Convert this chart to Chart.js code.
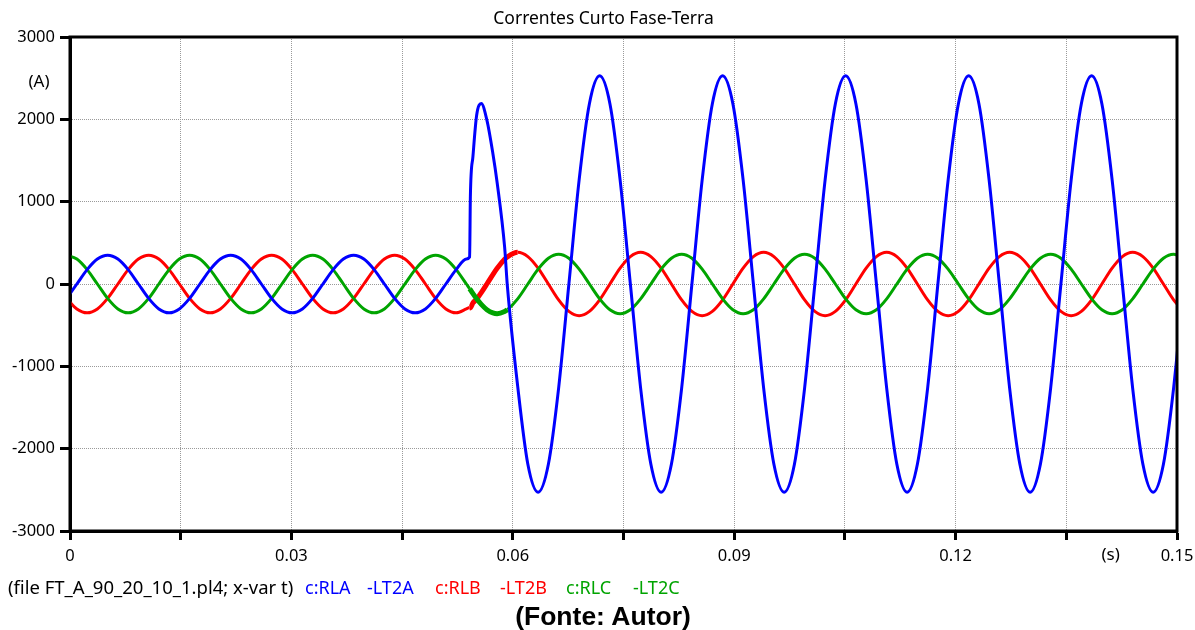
<!DOCTYPE html>
<html>
<head>
<meta charset="utf-8">
<title>Correntes Curto Fase-Terra</title>
<script src="https://cdn.jsdelivr.net/npm/chart.js@4.4.1/dist/chart.umd.min.js"></script>
<style>
  html, body { margin: 0; padding: 0; background: #fff; }
  #wrap { position: relative; width: 1195px; height: 630px; overflow: hidden; }
  #c { position: absolute; left: 0; top: 0; }
  .foot { position: absolute; top: 576px; font-family: 'Noto Sans', sans-serif; font-size: 18px; line-height: 22px; white-space: nowrap; color: #000; }
  .src { position: absolute; left: 0; width: 1206px; top: 601px; text-align: center; font-family: 'Liberation Sans', Arial, sans-serif; font-weight: bold; font-size: 26.5px; line-height: 30px; color: #000; }
</style>
</head>
<body>
<div id="wrap">
  <canvas id="c" width="1195" height="630"></canvas>
  <span class="foot" style="left:8px;font-size:18.5px">(file FT_A_90_20_10_1.pl4; x-var t)</span>
  <span class="foot" style="left:305px;color:#0000ff">c:RLA</span>
  <span class="foot" style="left:367px;color:#0000ff">-LT2A</span>
  <span class="foot" style="left:435px;color:#ff0000">c:RLB</span>
  <span class="foot" style="left:500px;color:#ff0000">-LT2B</span>
  <span class="foot" style="left:566px;color:#00a400">c:RLC</span>
  <span class="foot" style="left:633px;color:#00a400">-LT2C</span>
  <div class="src">(Fonte: Autor)</div>
</div>
<script>
// Sample instants (s) of the three phase currents
const timeS = [
  -0.00046, 0.00093, 0.00232, 0.00371, 0.00510, 0.00649, 0.00788, 0.00927, 0.01066, 0.01204,
  0.01343, 0.01482, 0.01621, 0.01760, 0.01899, 0.02038, 0.02177, 0.02316, 0.02454, 0.02593,
  0.02732, 0.02871, 0.03010, 0.03149, 0.03288, 0.03427, 0.03566, 0.03704, 0.03843, 0.03982,
  0.04121, 0.04260, 0.04399, 0.04538, 0.04677, 0.04816, 0.04954, 0.05093, 0.05232, 0.05371,
  0.05415, 0.05425, 0.05460, 0.05510, 0.05573, 0.05649, 0.05730, 0.05788, 0.05889, 0.05927, 0.06066,
  0.06204, 0.06343, 0.06482, 0.06621, 0.06760, 0.06899, 0.07038, 0.07177, 0.07316, 0.07454,
  0.07593, 0.07732, 0.07871, 0.08010, 0.08149, 0.08288, 0.08427, 0.08566, 0.08704, 0.08843,
  0.08982, 0.09121, 0.09260, 0.09399, 0.09538, 0.09677, 0.09816, 0.09954, 0.10093, 0.10232,
  0.10371, 0.10510, 0.10649, 0.10788, 0.10927, 0.11066, 0.11204, 0.11343, 0.11482, 0.11621,
  0.11760, 0.11899, 0.12038, 0.12177, 0.12316, 0.12454, 0.12593, 0.12732, 0.12871, 0.13010,
  0.13149, 0.13288, 0.13427, 0.13566, 0.13704, 0.13843, 0.13982, 0.14121, 0.14260, 0.14399,
  0.14538, 0.14677, 0.14816, 0.14954, 0.15093
];

// Phase A current (A): c:RLA -LT2A
const currentA = [
  -175, 0, 175, 303, 350, 303, 175, 0, -175, -303,
  -350, -303, -175, 0, 175, 303, 350, 303, 175, 0,
  -175, -303, -350, -303, -175, 0, 175, 303, 350, 303,
  175, 0, -175, -303, -350, -303, -175, 0, 175, 303,
  327, 1060, 1550, 2050, 2193, 1990, 1585, 1230, 450, -30, -1240,
  -2189, -2528, -2189, -1264, 0, 1264, 2189, 2528, 2189, 1264,
  0, -1264, -2189, -2528, -2189, -1264, 0, 1264, 2189, 2528,
  2189, 1264, 0, -1264, -2189, -2528, -2189, -1264, 0, 1264,
  2189, 2528, 2189, 1264, 0, -1264, -2189, -2528, -2189, -1264,
  0, 1264, 2189, 2528, 2189, 1264, 0, -1264, -2189, -2528,
  -2189, -1264, 0, 1264, 2189, 2528, 2189, 1264, 0, -1264,
  -2189, -2528, -2189, -1264, 0
];

// Phase B current (A): c:RLB -LT2B
const currentB = [
  -175, -303, -350, -303, -175, 0, 175, 303, 350, 303,
  175, 0, -175, -303, -350, -303, -175, 0, 175, 303,
  350, 303, 175, 0, -175, -303, -350, -303, -175, 0,
  175, 303, 350, 303, 175, 0, -175, -303, -350, -303,
  -285, -290, -230, -185, -105, 0, 115, 190, 300, 330, 385,
  333, 193, 0, -193, -333, -385, -333, -193, 0, 193,
  333, 385, 333, 193, 0, -193, -333, -385, -333, -193,
  0, 193, 333, 385, 333, 193, 0, -193, -333, -385,
  -333, -193, 0, 193, 333, 385, 333, 193, 0, -193,
  -333, -385, -333, -193, 0, 193, 333, 385, 333, 193,
  0, -193, -333, -385, -333, -193, 0, 193, 333, 385,
  333, 193, 0, -193, -333
];

// Phase C current (A): c:RLC -LT2C
const currentC = [
  350, 303, 175, 0, -175, -303, -350, -303, -175, 0,
  175, 303, 350, 303, 175, 0, -175, -303, -350, -303,
  -175, 0, 175, 303, 350, 303, 175, 0, -175, -303,
  -350, -303, -175, 0, 175, 303, 350, 303, 175, 0,
  -58, -70, -117, -180, -248, -312, -351, -360, -334, -312, -180,
  0, 180, 312, 360, 312, 180, 0, -180, -312, -360,
  -312, -180, 0, 180, 312, 360, 312, 180, 0, -180,
  -312, -360, -312, -180, 0, 180, 312, 360, 312, 180,
  0, -180, -312, -360, -312, -180, 0, 180, 312, 360,
  312, 180, 0, -180, -312, -360, -312, -180, 0, 180,
  312, 360, 312, 180, 0, -180, -312, -360, -312, -180,
  0, 180, 312, 360, 312
];

// Axis tick labels
const xTickLabels = ['0', '0.03', '0.06', '0.09', '0.12', '0.15'];
const yTickLabels = ['-3000', '-2000', '-1000', '0', '1000', '2000', '3000'];

const CHART_TITLE = 'Correntes Curto Fase-Terra';
const FONT = "'Noto Sans', sans-serif";
const GRID_GREY = '#9a9a9a';

const toPoints = values => timeS.map((t, i) => ({ x: t, y: values[i] }));

// thicker trace while the post-fault oscillation is present
const fuzzyWindow = (t0, t1) => ctx =>
  (timeS[ctx.p0DataIndex] >= t0 && timeS[ctx.p1DataIndex] <= t1) ? 5 : 3;

// closes the plot box on all four sides
const plotFrame = {
  id: 'plotFrame',
  afterDatasetsDraw(chart) {
    const { ctx, chartArea: a } = chart;
    ctx.save();
    ctx.strokeStyle = '#000';
    ctx.lineWidth = 3;
    ctx.strokeRect(a.left, a.top, a.right - a.left, a.bottom - a.top);
    ctx.restore();
  }
};

// title and unit captions
const captions = {
  id: 'captions',
  afterDraw(chart) {
    const { ctx, scales: { x, y } } = chart;
    ctx.save();
    ctx.fillStyle = '#000';
    ctx.textAlign = 'center';
    ctx.textBaseline = 'middle';
    ctx.font = '17.5px ' + FONT;
    ctx.fillText(CHART_TITLE, 603.5, 19);
    ctx.font = '17px ' + FONT;
    ctx.fillText('(A)', 39, y.getPixelForValue(2450));
    ctx.fillText('(s)', x.getPixelForValue(0.1410), x.top + 24);
    ctx.restore();
  }
};

const edgeHidden = (lo, hi) => c =>
  (c.tick && (c.tick.value === lo || c.tick.value === hi)) ? 'rgba(0,0,0,0)' : GRID_GREY;

new Chart(document.getElementById('c'), {
  type: 'line',
  data: {
    datasets: [
      { label: 'c:RLA -LT2A', data: toPoints(currentA), borderColor: '#0000ff', borderWidth: 3 },
      { label: 'c:RLC -LT2C', data: toPoints(currentC), borderColor: '#00a400', borderWidth: 3,
        segment: { borderWidth: fuzzyWindow(0.0541, 0.0593) } },
      { label: 'c:RLB -LT2B', data: toPoints(currentB), borderColor: '#ff0000', borderWidth: 3,
        segment: { borderWidth: fuzzyWindow(0.0541, 0.0607) } }
    ]
  },
  options: {
    responsive: false,
    devicePixelRatio: 1,
    animation: false,
    events: [],
    elements: {
      point: { radius: 0 },
      line: { cubicInterpolationMode: 'monotone', fill: false }
    },
    layout: { padding: { top: 37, left: 0, right: 18, bottom: 59 } },
    plugins: {
      legend: { display: false },
      tooltip: { enabled: false },
      title: { display: false }
    },
    scales: {
      x: {
        type: 'linear',
        min: 0,
        max: 0.15,
        afterFit: s => { s.height = 40; s.paddingRight = 10; },
        grid: { color: edgeHidden(0, 0.15), lineWidth: 1, tickLength: 9, tickWidth: 3, tickColor: '#000' },
        border: { display: true, color: '#000', width: 3, dash: [1, 1] },
        ticks: {
          stepSize: 0.015,
          autoSkip: false,
          maxRotation: 0,
          padding: 6,
          color: '#000',
          font: { family: FONT, size: 16.5 },
          callback: (v, i) => (i % 2 === 0 ? xTickLabels[i / 2] : '')
        }
      },
      y: {
        type: 'linear',
        min: -3000,
        max: 3000,
        afterFit: s => { s.width = 70; },
        grid: { color: edgeHidden(-3000, 3000), lineWidth: 1, tickLength: 10, tickWidth: 3, tickColor: '#000' },
        border: { display: true, color: '#000', width: 3, dash: [1, 1] },
        ticks: {
          stepSize: 1000,
          padding: 5,
          color: '#000',
          font: { family: FONT, size: 16.5 },
          callback: (v, i) => yTickLabels[i]
        }
      }
    }
  },
  plugins: [plotFrame, captions]
});
</script>
</body>
</html>
